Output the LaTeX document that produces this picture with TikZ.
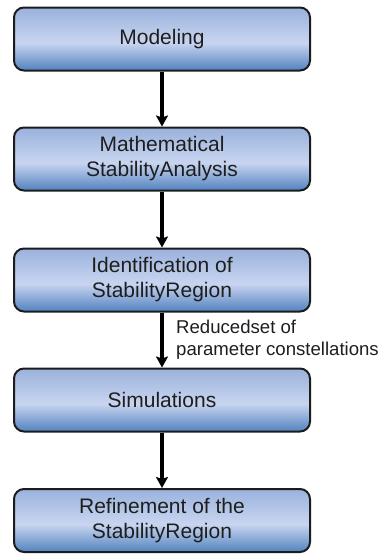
\documentclass[tikz,border=0pt]{standalone}
\usepackage{fontspec}
\setmainfont{Liberation Sans}
\usetikzlibrary{arrows.meta,calc}
\definecolor{boxtop}{HTML}{9AB2DC}
\definecolor{boxlight}{HTML}{C8D5F0}
\definecolor{boxbot}{HTML}{5282BF}
\definecolor{boxline}{HTML}{1C1C1C}
\definecolor{txt}{HTML}{1E1E1E}
\pgfdeclareverticalshading{boxshade}{100bp}{color(0bp)=(boxbot); color(25bp)=(boxbot); color(47bp)=(boxlight); color(75bp)=(boxtop); color(100bp)=(boxtop)}
\tikzset{
  stepbox/.style={draw=boxline, line width=2pt, rounded corners=10pt,
    shading=boxshade, minimum width=296pt, minimum height=63pt,
    align=center, inner sep=0pt, text=txt,
    font=\fontsize{21}{25}\selectfont},
  flowarrow/.style={line width=3.4pt, -{Stealth[length=11pt,width=12pt,inset=2pt]}},
  sidelabel/.style={align=left, inner sep=0pt, anchor=west, text=txt,
    font=\fontsize{18.6}{22}\selectfont}
}
\begin{document}
\begin{tikzpicture}[x=1pt,y=-1pt]
\useasboundingbox (0,0) rectangle (384,554);
\node[stepbox] (b1) at (162,39) {Modeling};
\node[stepbox] (b2) at (162,159) {Mathematical\\StabilityAnalysis};
\node[stepbox] (b3) at (162,280) {Identification of\\StabilityRegion};
\node[stepbox] (b4) at (162,400) {Simulations};
\node[stepbox] (b5) at (162,520.5) {Refinement of the\\StabilityRegion};
\draw[flowarrow] (b1) -- (b2);
\draw[flowarrow] (b2) -- (b3);
\draw[flowarrow] (b3) -- (b4);
\draw[flowarrow] (b4) -- (b5);
\node[sidelabel] (lab) at ($(b3.south)!0.5!(b4.north)+(14,0)$) {Reducedset of\\parameter constellations};
\end{tikzpicture}
\end{document}
